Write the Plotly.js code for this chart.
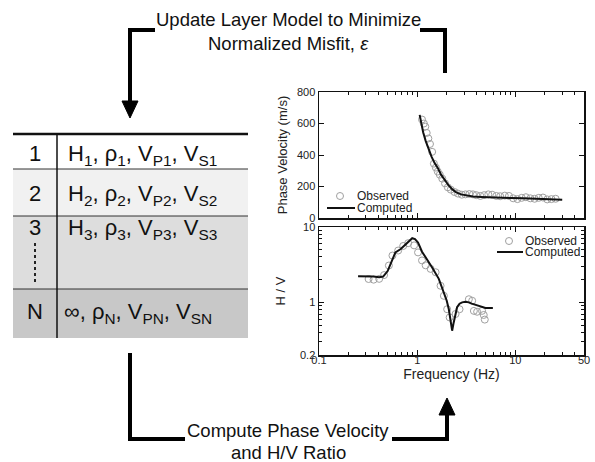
<!DOCTYPE html>
<html>
<head>
<meta charset="utf-8">
<script src="https://cdn.plot.ly/plotly-3.0.1.min.js"></script>
<style>html,body{margin:0;padding:0;background:#fff}#chart{width:595px;height:462px}</style>
</head>
<body>
<div id="chart"></div>
<script>
// Dispersion curve: observed and computed phase velocity (m/s) vs frequency (Hz)
var velObsFreq = [1.12,1.17,1.21,1.25,1.30,1.35,1.42,1.48,1.55,1.62,1.70,1.80,1.92,2.05,2.2,2.4,2.6,2.85,3.1,3.4,3.7,4.0,4.4,4.8,5.3,5.8,6.4,7.0,7.8,8.6,9.5,10.5,11.6,12.8,14.2,15.7,17.3,19.1,21.1,23.3,25.7];
var velObs     = [625,600,580,540,505,470,420,345,320,295,275,250,220,195,180,165,155,148,150,152,150,145,140,145,150,148,140,138,142,140,125,120,128,132,125,122,128,130,118,120,122];
var velCompFreq = [1.06,1.1,1.15,1.22,1.3,1.4,1.5,1.62,1.75,1.9,2.1,2.3,2.5,2.8,3.2,3.7,4.5,5.5,7,9,12,16,22,30];
var velComp     = [655,600,545,490,440,390,350,318,275,240,205,180,163,150,142,137,134,131,129,127,125,122,119,116];

// H/V spectral ratio: observed and computed
var hvObsFreq = [0.32,0.36,0.41,0.46,0.515,0.56,0.64,0.72,0.81,0.93,1.02,1.12,1.22,1.37,1.54,1.73,1.87,2.02,2.14,2.46,2.7,3.36,3.63,3.78,4.08,4.58,4.76,4.88];
var hvObs     = [2.04,2.0,2.05,2.3,3.08,4.18,4.87,5.6,6.1,5.7,4.6,3.6,3.1,2.78,2.51,1.66,1.22,0.81,0.63,0.70,0.81,1.1,1.05,0.77,0.75,0.77,0.68,0.59];
var hvCompFreq = [0.25,0.3,0.36,0.41,0.45,0.5,0.55,0.6,0.68,0.75,0.82,0.89,0.95,1.02,1.12,1.25,1.42,1.66,1.87,2.0,2.1,2.2,2.27,2.34,2.42,2.55,2.7,2.87,3.1,3.36,3.6,3.93,4.4,4.96,5.9];
var hvComp     = [2.22,2.22,2.2,2.15,2.2,2.6,3.5,4.6,5.1,5.7,6.3,7.1,6.9,6.2,4.7,3.8,2.9,2.05,1.36,1.05,0.81,0.58,0.42,0.52,0.66,0.86,0.96,1.0,1.02,1.0,0.96,0.92,0.88,0.84,0.84];

// Layer model table
var layerIds  = ['1','2','3','N'];
var layerText = [
  'H<sub>1</sub>, ρ<sub>1</sub>, V<sub>P1</sub>, V<sub>S1</sub>',
  'H<sub>2</sub>, ρ<sub>2</sub>, V<sub>P2</sub>, V<sub>S2</sub>',
  'H<sub>3</sub>, ρ<sub>3</sub>, V<sub>P3</sub>, V<sub>S3</sub>',
  '∞, ρ<sub>N</sub>, V<sub>PN</sub>, V<sub>SN</sub>'
];

var W = 595, H = 462;
function X(px){ return px / W; }
function Y(py){ return 1 - py / H; }
var FONT = 'Liberation Sans, Arial, sans-serif';

var obsMarker = {symbol:'circle-open', size:7, color:'#a0a0a0', line:{width:1, color:'#a0a0a0'}};
var compLine = {color:'#111', width:2};

var traces = [
  {x:velObsFreq, y:velObs, mode:'markers', name:'Observed', marker:obsMarker, xaxis:'x', yaxis:'y', showlegend:false},
  {x:velCompFreq, y:velComp, mode:'lines', name:'Computed', line:compLine, xaxis:'x', yaxis:'y', showlegend:false},
  {x:hvObsFreq, y:hvObs, mode:'markers', name:'Observed', marker:obsMarker, xaxis:'x2', yaxis:'y2', showlegend:false},
  {x:hvCompFreq, y:hvComp, mode:'lines', name:'Computed', line:compLine, xaxis:'x2', yaxis:'y2', showlegend:false}
];

var minorX = [0.2,0.3,0.4,0.5,0.6,0.7,0.8,0.9,2,3,4,5,6,7,8,9,20,30,40];
var minorY = [0.3,0.4,0.5,0.6,0.7,0.8,0.9,2,3,4,5,6,7,8,9];

function axisBase(){
  return {
    showline:true, linecolor:'#111', linewidth:1.5, mirror:'ticks',
    ticks:'inside', ticklen:5, tickwidth:1, tickcolor:'#111',
    showgrid:false, zeroline:false,
    tickfont:{family:FONT, size:11, color:'#222'}
  };
}

var xTop = Object.assign(axisBase(), {
  type:'log', range:[-1, Math.log10(50)], domain:[X(319), X(584)], anchor:'y',
  tickvals:[0.1,1,10,50], showticklabels:false,
  minor:{tickvals:minorX, ticks:'inside', ticklen:3, tickcolor:'#111', showgrid:false}
});
var yTop = Object.assign(axisBase(), {
  range:[0,800], domain:[Y(218), Y(92)], anchor:'x',
  tickvals:[0,200,400,600,800],
  title:{text:'Phase Velocity (m/s)', font:{family:FONT, size:13, color:'#222'}, standoff:6}
});
var xBot = Object.assign(axisBase(), {
  type:'log', range:[-1, Math.log10(50)], domain:[X(319), X(584)], anchor:'y2',
  tickvals:[0.1,1,10,50], ticktext:['0.1','1','10','50'], ticklabelstandoff:-6,
  minor:{tickvals:minorX, ticks:'inside', ticklen:3, tickcolor:'#111', showgrid:false},
  title:{text:'Frequency (Hz)', font:{family:FONT, size:14, color:'#222'}, standoff:0}
});
var yBot = Object.assign(axisBase(), {
  type:'log', range:[Math.log10(0.2), 1], domain:[Y(355), Y(227)], anchor:'x2',
  tickvals:[0.2,1,10], ticktext:['0.2','1','10'],
  minor:{tickvals:minorY, ticks:'inside', ticklen:3, tickcolor:'#111', showgrid:false},
  title:{text:'H / V', font:{family:FONT, size:13, color:'#222'}, standoff:11}
});

var shapes = [];
var annotations = [];

// Table rows
var rowTops = [134, 169, 216, 289];
var rowBots = [169, 216, 289, 338];
var rowFill = ['#ffffff', '#f1f1f1', '#dddddd', '#c8c8c8'];
var rowTextY = [153, 193, 227, 311];
for (var i = 0; i < 4; i++) {
  shapes.push({type:'rect', xref:'paper', yref:'paper', x0:X(13), x1:X(248), y0:Y(rowBots[i]), y1:Y(rowTops[i]),
    fillcolor:rowFill[i], line:{width:0}, layer:'below'});
  if (i > 0) {
    shapes.push({type:'line', xref:'paper', yref:'paper', x0:X(13), x1:X(248), y0:Y(rowTops[i]), y1:Y(rowTops[i]),
      line:{color:'#333', width:1}});
  }
  annotations.push({xref:'paper', yref:'paper', x:X(35), y:Y(rowTextY[i]), text:layerIds[i], showarrow:false,
    xanchor:'center', yanchor:'middle', font:{family:FONT, size:22, color:'#111'}});
  annotations.push({xref:'paper', yref:'paper', x:X(i === 3 ? 62 : 66), y:Y(rowTextY[i] + 2), text:layerText[i], showarrow:false,
    xanchor:'left', yanchor:'middle', font:{family:FONT, size:22, color:'#111'}});
}
// table top border and column divider
shapes.push({type:'line', xref:'paper', yref:'paper', x0:X(13), x1:X(248), y0:Y(134), y1:Y(134), line:{color:'#111', width:2.5}});
shapes.push({type:'line', xref:'paper', yref:'paper', x0:X(57), x1:X(57), y0:Y(134), y1:Y(338), line:{color:'#111', width:1.5}});
// dotted continuation below layer 3
shapes.push({type:'line', xref:'paper', yref:'paper', x0:X(35), x1:X(35), y0:Y(243), y1:Y(283), line:{color:'#222', width:2, dash:'dot'}});

// Flow arrows
function seg(x0, y0, x1, y1){
  shapes.push({type:'line', xref:'paper', yref:'paper', x0:X(x0), x1:X(x1), y0:Y(y0), y1:Y(y1), line:{color:'#000', width:4}});
}
function tri(ax, ay, bx, by, cx, cy){
  shapes.push({type:'path', xref:'paper', yref:'paper',
    path:'M'+X(ax)+','+Y(ay)+' L'+X(bx)+','+Y(by)+' L'+X(cx)+','+Y(cy)+' Z',
    fillcolor:'#000', line:{color:'#000', width:1}});
}
// top loop: from plots back to the layer model
seg(128, 30, 155, 30);
seg(130, 28, 130, 102);
tri(122, 101, 138, 101, 130, 118);
seg(420, 30, 447, 30);
seg(445, 28, 445, 73);
// bottom loop: from the layer model to the plots
seg(130, 353, 130, 441);
seg(128, 439, 185, 439);
seg(392, 439, 449, 439);
seg(447, 441, 447, 414);
tri(439, 415, 455, 415, 447, 398);

annotations.push({xref:'paper', yref:'paper', x:X(288), y:Y(20), text:'Update Layer Model to Minimize', showarrow:false,
  xanchor:'center', yanchor:'middle', font:{family:FONT, size:18.5, color:'#111'}});
annotations.push({xref:'paper', yref:'paper', x:X(288), y:Y(43), text:'Normalized Misfit, <i>ε</i>', showarrow:false,
  xanchor:'center', yanchor:'middle', font:{family:FONT, size:18.5, color:'#111'}});
annotations.push({xref:'paper', yref:'paper', x:X(288), y:Y(430), text:'Compute Phase Velocity', showarrow:false,
  xanchor:'center', yanchor:'middle', font:{family:FONT, size:18.5, color:'#111'}});
annotations.push({xref:'paper', yref:'paper', x:X(288), y:Y(452), text:'and H/V Ratio', showarrow:false,
  xanchor:'center', yanchor:'middle', font:{family:FONT, size:18.5, color:'#111'}});

// Legend keys for each panel
function legendKey(cx, cy, lx0, lx1, ly, tx){
  shapes.push({type:'circle', xref:'paper', yref:'paper', x0:X(cx-3.5), x1:X(cx+3.5), y0:Y(cy+3.5), y1:Y(cy-3.5),
    line:{color:'#a0a0a0', width:1}});
  shapes.push({type:'line', xref:'paper', yref:'paper', x0:X(lx0), x1:X(lx1), y0:Y(ly), y1:Y(ly), line:{color:'#111', width:2}});
  annotations.push({xref:'paper', yref:'paper', x:X(tx), y:Y(cy), text:'Observed', showarrow:false,
    xanchor:'left', yanchor:'middle', font:{family:FONT, size:12, color:'#222'}});
  annotations.push({xref:'paper', yref:'paper', x:X(tx), y:Y(ly), text:'Computed', showarrow:false,
    xanchor:'left', yanchor:'middle', font:{family:FONT, size:12, color:'#222'}});
}
legendKey(340, 196, 327, 355, 208, 355);
legendKey(509, 241, 497, 523, 252, 523);

var layout = {
  width:W, height:H,
  margin:{l:0, r:0, t:0, b:0},
  paper_bgcolor:'#fff', plot_bgcolor:'rgba(0,0,0,0)',
  font:{family:FONT, color:'#222'},
  showlegend:false,
  xaxis:xTop, yaxis:yTop, xaxis2:xBot, yaxis2:yBot,
  shapes:shapes, annotations:annotations
};

Plotly.newPlot('chart', traces, layout, {displayModeBar:false, staticPlot:true});
</script>
</body>
</html>
